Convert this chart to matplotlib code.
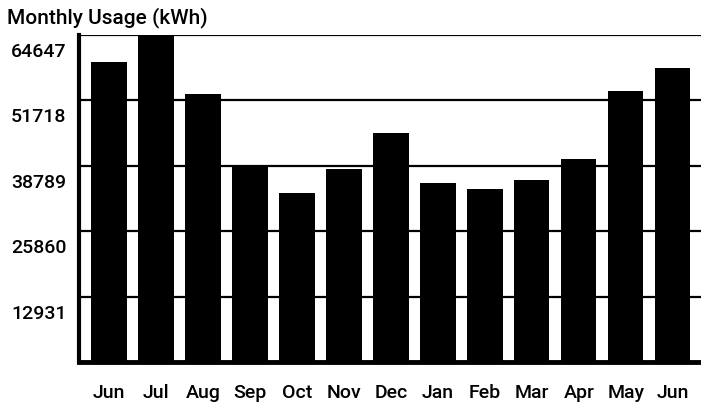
import matplotlib.pyplot as plt
from matplotlib.transforms import ScaledTranslation

# monthly usage
months = ["Jun", "Jul", "Aug", "Sep", "Oct", "Nov", "Dec",
          "Jan", "Feb", "Mar", "Apr", "May", "Jun"]
usage = [59300, 65500, 53000, 39000, 33400, 38200, 45300,
         35400, 34200, 36000, 40100, 53600, 58100]
y_ticks = [12931, 25860, 38789, 51718, 64647]

plt.rcParams['font.family'] = ['Roboto', 'DejaVu Sans']

fig = plt.figure(figsize=(7.01, 4.05), dpi=100)
ax = fig.add_axes([79 / 701, 1 - 362 / 405, 1 - 79 / 701, (362 - 35) / 405])

x = range(len(months))
ax.bar(x, usage, width=0.75, color="black", zorder=2)

ax.set_xlim(-0.64, 12.6)
ax.set_ylim(0, 64647)
ax.set_xticks(list(x))
ax.set_xticklabels(months)
ax.set_yticks(y_ticks)
ax.set_yticklabels([str(v) for v in y_ticks])

ax.grid(axis="y", color="black", linewidth=1.6, zorder=1)
ax.set_axisbelow(True)

for side in ["top", "right"]:
    ax.spines[side].set_visible(False)
ax.spines["left"].set_linewidth(3)
ax.spines["bottom"].set_linewidth(3.5)

ax.tick_params(axis="x", length=0, pad=16, labelsize=14)
ax.tick_params(axis="y", length=0, pad=9, labelsize=14)

# labels sit a little below their grid lines in the original
shift = ScaledTranslation(0, -0.15, fig.dpi_scale_trans)
for lab in ax.get_yticklabels():
    lab.set_transform(lab.get_transform() + shift)
    lab.set_fontweight("medium")
for lab in ax.get_xticklabels():
    lab.set_fontweight("medium")

fig.text(7 / 701, 1 - 18 / 405, "Monthly Usage (kWh)", fontsize=15,
         fontweight="medium", ha="left", va="center")

fig.savefig("out.png", dpi=100)
